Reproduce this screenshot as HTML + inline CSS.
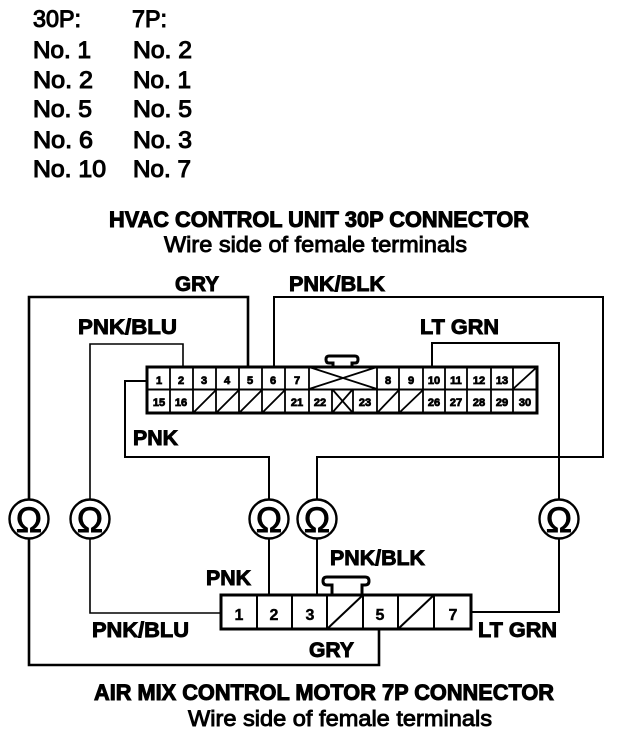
<!DOCTYPE html>
<html><head><meta charset="utf-8"><style>
html,body{margin:0;padding:0;background:#fff}
svg{display:block}
text{font-family:"Liberation Sans",sans-serif;fill:#000}
.b{font-weight:bold;font-size:21px;stroke:#000;stroke-width:.9px}
.h{font-weight:bold;font-size:22px;stroke:#000;stroke-width:1px}
.r{font-size:22px;stroke:#000;stroke-width:.9px}
.l{font-size:24px;stroke:#000;stroke-width:1.1px}
.p{font-weight:bold;font-size:11px;text-anchor:middle;stroke:#000;stroke-width:.8px}
.q{font-weight:bold;font-size:16px;text-anchor:middle;stroke:#000;stroke-width:.4px}
.o{font-size:35px;text-anchor:middle;stroke:#000;stroke-width:.9px}
.w{fill:none;stroke:#000;stroke-width:2}
.n{fill:none;stroke:#000;stroke-width:1.6}
.x{fill:none;stroke:#000;stroke-width:2.6}
.k{fill:none;stroke:#000;stroke-width:3}
.t{fill:none;stroke:#000;stroke-width:1.8}
</style></head><body>
<svg width="640" height="748" viewBox="0 0 640 748" xmlns="http://www.w3.org/2000/svg">
<text class="l" x="33" y="27" textLength="48" lengthAdjust="spacingAndGlyphs">30P:</text>
<text class="l" x="132" y="27" textLength="35" lengthAdjust="spacingAndGlyphs">7P:</text>
<text class="l" x="33" y="58" textLength="58" lengthAdjust="spacingAndGlyphs">No. 1</text><text class="l" x="133" y="58" textLength="59" lengthAdjust="spacingAndGlyphs">No. 2</text>
<text class="l" x="33" y="88" textLength="60" lengthAdjust="spacingAndGlyphs">No. 2</text><text class="l" x="133" y="88" textLength="58" lengthAdjust="spacingAndGlyphs">No. 1</text>
<text class="l" x="33" y="117" textLength="59" lengthAdjust="spacingAndGlyphs">No. 5</text><text class="l" x="133" y="117" textLength="59" lengthAdjust="spacingAndGlyphs">No. 5</text>
<text class="l" x="33" y="148" textLength="60" lengthAdjust="spacingAndGlyphs">No. 6</text><text class="l" x="133" y="148" textLength="59" lengthAdjust="spacingAndGlyphs">No. 3</text>
<text class="l" x="33" y="177" textLength="73" lengthAdjust="spacingAndGlyphs">No. 10</text><text class="l" x="133" y="177" textLength="58" lengthAdjust="spacingAndGlyphs">No. 7</text>

<text class="h" x="109" y="227" textLength="420" lengthAdjust="spacingAndGlyphs">HVAC CONTROL UNIT 30P CONNECTOR</text>
<text class="r" x="164" y="252" textLength="303" lengthAdjust="spacingAndGlyphs">Wire side of female terminals</text>
<text class="h" x="94" y="700" textLength="460" lengthAdjust="spacingAndGlyphs">AIR MIX CONTROL MOTOR 7P CONNECTOR</text>
<text class="r" x="188" y="726" textLength="304" lengthAdjust="spacingAndGlyphs">Wire side of female terminals</text>

<text class="b" x="175" y="291" textLength="44" lengthAdjust="spacingAndGlyphs">GRY</text>
<text class="b" x="289" y="291" textLength="96" lengthAdjust="spacingAndGlyphs">PNK/BLK</text>
<text class="b" x="78" y="334" textLength="99" lengthAdjust="spacingAndGlyphs">PNK/BLU</text>
<text class="b" x="420" y="334" textLength="79" lengthAdjust="spacingAndGlyphs">LT GRN</text>
<text class="b" x="133" y="445" textLength="45" lengthAdjust="spacingAndGlyphs">PNK</text>
<text class="b" x="206" y="585" textLength="45" lengthAdjust="spacingAndGlyphs">PNK</text>
<text class="b" x="92" y="637" textLength="97" lengthAdjust="spacingAndGlyphs">PNK/BLU</text>
<text class="b" x="330" y="565" textLength="95" lengthAdjust="spacingAndGlyphs">PNK/BLK</text>
<text class="b" x="478" y="637" textLength="79" lengthAdjust="spacingAndGlyphs">LT GRN</text>
<text class="b" x="309" y="657" textLength="45" lengthAdjust="spacingAndGlyphs">GRY</text>

<!-- wires -->
<path class="x" d="M29 499V297H248V367"/>
<path class="n" d="M90 499V344H183V367"/>
<path class="w" d="M274 367V297H603V457H317V499"/>
<path class="w" d="M432 367V343H559V499"/>
<path class="w" d="M147 381H125V457H269V499"/>
<path class="x" d="M29 539V665H379V629"/>
<path class="n" d="M90 539V613H221"/>
<path class="w" d="M269 539V595"/>
<path class="w" d="M317 539V595"/>
<path class="w" d="M559 539V612H471"/>

<!-- ohm meters -->
<g fill="#fff" stroke="#000" stroke-width="2.4">
<circle cx="29" cy="519" r="19.5"/><circle cx="90" cy="519" r="19.5"/><circle cx="269" cy="519" r="19.5"/><circle cx="317" cy="519" r="19.5"/><circle cx="559" cy="519" r="19.5"/>
</g>
<text class="o" x="29" y="532">Ω</text><text class="o" x="90" y="532">Ω</text><text class="o" x="269" y="532">Ω</text><text class="o" x="317" y="532">Ω</text><text class="o" x="559" y="532">Ω</text>

<!-- 30P connector -->
<path class="k" d="M333 367V363H329Q326 363 326 359.500Q326 356 329 356H355Q358 356 358 359.500Q358 363 355 363H352V367"/>
<rect class="k" x="147" y="367" width="390" height="46" fill="#fff"/>
<path class="w" d="M147 389.500H537"/>
<path class="t" d="M170 367V413M193 367V413M216 367V413M239 367V413M262 367V413M285 367V413M309 367V413M377 367V413M399 367V413M423 367V413M445 367V413M467 367V413M491 367V413M513 367V413M332 389V413M353 389V413"/>
<path class="t" d="M309 367L377 389M309 389L377 367M332 389L353 413M332 413L353 389M513 389L537 367M193 413L216 390M216 413L239 390M239 413L262 390M262 413L285 390M377 413L399 390M399 413L423 390"/>
<text class="p" x="159" y="384">1</text><text class="p" x="181" y="384">2</text><text class="p" x="204" y="384">3</text><text class="p" x="227" y="384">4</text><text class="p" x="250" y="384">5</text><text class="p" x="273" y="384">6</text><text class="p" x="297" y="384">7</text>
<text class="p" x="388" y="384">8</text><text class="p" x="411" y="384">9</text><text class="p" x="434" y="384">10</text><text class="p" x="456" y="384">11</text><text class="p" x="479" y="384">12</text><text class="p" x="502" y="384">13</text>
<text class="p" x="159" y="406">15</text><text class="p" x="181" y="406">16</text><text class="p" x="297" y="406">21</text><text class="p" x="320" y="406">22</text><text class="p" x="365" y="406">23</text>
<text class="p" x="434" y="406">26</text><text class="p" x="456" y="406">27</text><text class="p" x="479" y="406">28</text><text class="p" x="502" y="406">29</text><text class="p" x="525" y="406">30</text>

<!-- 7P connector -->
<path class="k" d="M332 595V585H327Q323 585 323 581Q323 577 327 577H365Q369 577 369 581Q369 585 365 585H362V595"/>
<rect class="k" x="221" y="595" width="250" height="34" fill="#fff"/>
<path class="w" d="M257 595V629M292 595V629M327 595V629M363 595V629M398 595V629M434 595V629"/>
<path class="w" d="M327 629L363 595M398 629L434 595"/>
<text class="q" x="239" y="620">1</text><text class="q" x="274" y="620">2</text><text class="q" x="310" y="620">3</text><text class="q" x="380" y="620">5</text><text class="q" x="453" y="620">7</text>
</svg>
</body></html>
